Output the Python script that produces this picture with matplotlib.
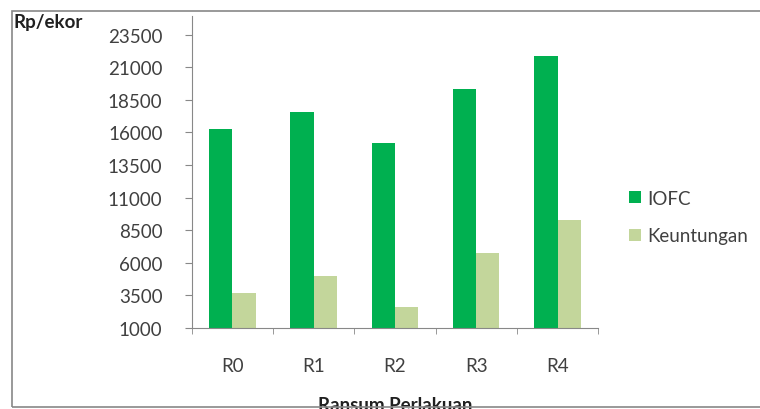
import numpy as np
import matplotlib.pyplot as plt
from matplotlib.patches import Rectangle

categories = ['R0', 'R1', 'R2', 'R3', 'R4']
iofc = [16280, 17590, 15160, 19320, 21840]
keuntungan = [3680, 5000, 2570, 6770, 9240]
yticks = [1000, 3500, 6000, 8500, 11000, 13500, 16000, 18500, 21000, 23500]

plt.rcParams['font.family'] = ['Lato', 'DejaVu Sans']
fs = 13.5

fig = plt.figure(figsize=(7.6, 4.1), dpi=100)
ax = fig.add_axes([0.2522, 0.1983, 0.535, 0.7602])

x = np.arange(len(categories))
w = 0.285
ax.bar(x - w / 2, iofc, w, color='#00B050', label='IOFC')
ax.bar(x + w / 2, keuntungan, w, color='#C3D69B', label='Keuntungan')

ax.set_xlim(-0.5, 4.5)
ax.set_ylim(1000, 24950)
ax.set_yticks(yticks)
ax.set_yticklabels([str(v) for v in yticks], fontsize=fs, color='#404040')
ax.set_xticks(x)
ax.set_xticklabels(categories, fontsize=fs, color='#404040')
ax.set_xticks(np.arange(-0.5, 5, 1), minor=True)
ax.tick_params(axis='x', which='major', length=0, pad=21)
ax.tick_params(axis='x', which='minor', length=4, color='#888888')
ax.tick_params(axis='y', length=5, color='#888888', pad=16)

for s in ['top', 'right']:
    ax.spines[s].set_visible(False)
for s in ['left', 'bottom']:
    ax.spines[s].set_color('#888888')

ax.set_xlabel('Ransum Perlakuan', fontsize=fs, fontweight='bold',
              color='#202020', labelpad=16)

fig.text(0.018, 0.945, 'Rp/ekor', fontsize=fs, fontweight='bold',
         color='#202020', va='center')

leg = ax.legend(loc='center left', bbox_to_anchor=(1.035, 0.355), frameon=False,
                fontsize=fs, handlelength=0.6, handleheight=0.6,
                handletextpad=0.35, labelspacing=1.1)
for t in leg.get_texts():
    t.set_color('#404040')

fig.patches.append(Rectangle((12 / 760, 2 / 410), 1.2, 396 / 410,
                             transform=fig.transFigure, fill=False,
                             edgecolor='#888888', linewidth=1.2, zorder=10))

fig.savefig('out.png')
